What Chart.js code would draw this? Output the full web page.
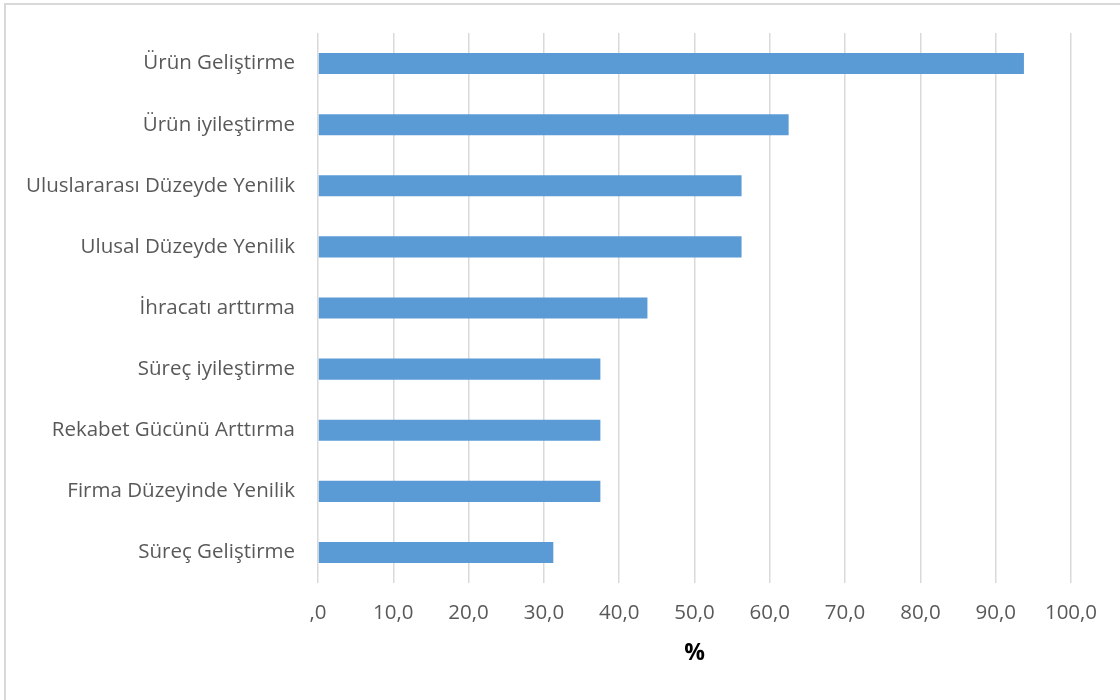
<!DOCTYPE html>
<html>
<head>
<meta charset="utf-8">
<script src="https://cdn.jsdelivr.net/npm/chart.js@4/dist/chart.umd.min.js"></script>
<style>
  html, body { margin: 0; padding: 0; background: #fff; overflow: hidden; }
  #wrap { position: relative; width: 1120px; height: 700px; }
  #frame { position: absolute; left: 4px; top: 3px; width: 1130px; height: 710px; border: 2px solid #d9d9d9; box-sizing: border-box; pointer-events: none; }
  canvas { position: absolute; left: 0; top: 0; }
</style>
</head>
<body>
<div id="wrap">
  <canvas id="c" width="1120" height="700"></canvas>
  <div id="frame"></div>
</div>
<script>
const categories = [
  "Ürün Geliştirme",
  "Ürün iyileştirme",
  "Uluslararası Düzeyde Yenilik",
  "Ulusal Düzeyde Yenilik",
  "İhracatı arttırma",
  "Süreç iyileştirme",
  "Rekabet Gücünü Arttırma",
  "Firma Düzeyinde Yenilik",
  "Süreç Geliştirme"
];
const values = [93.75, 62.5, 56.25, 56.25, 43.75, 37.5, 37.5, 37.5, 31.25];
const axisTitle = "%";
const xMin = 0, xMax = 100, xStep = 10;

const FONT = "'Open Sans', 'Noto Sans', sans-serif";

new Chart(document.getElementById('c'), {
  type: 'bar',
  data: {
    labels: categories,
    datasets: [{
      data: values,
      backgroundColor: '#5b9bd5',
      borderWidth: 0,
      categoryPercentage: 1,
      barPercentage: 0.345
    }]
  },
  options: {
    indexAxis: 'y',
    responsive: false,
    animation: false,
    events: [],
    layout: { padding: { top: 33, right: 49, bottom: 33, left: 0 } },
    plugins: { legend: { display: false }, tooltip: { enabled: false }, title: { display: false } },
    scales: {
      x: {
        min: xMin, max: xMax,
        ticks: {
          stepSize: xStep,
          color: '#595959',
          font: { family: FONT, size: 20.5 },
          padding: 18,
          maxRotation: 0,
          callback: (v) => v === 0 ? ',0' : v.toFixed(1).replace('.', ',')
        },
        grid: { color: '#d9d9d9', lineWidth: 1.5, drawTicks: false },
        border: { display: false },
        title: {
          display: true, text: axisTitle, color: '#000',
          font: { family: FONT, size: 23, weight: 'bold' },
          padding: { top: 8, bottom: 0 }
        },
        afterFit: (s) => { s.height = 84; s.paddingLeft = 0; s.paddingRight = 0; }
      },
      y: {
        ticks: {
          color: '#595959',
          font: { family: FONT, size: 20.5 },
          padding: 23,
          autoSkip: false
        },
        grid: { display: false, drawTicks: false },
        border: { display: false },
        afterFit: (s) => { s.width = 318; s.paddingTop = 0; s.paddingBottom = 0; }
      }
    }
  }
});
</script>
</body>
</html>
